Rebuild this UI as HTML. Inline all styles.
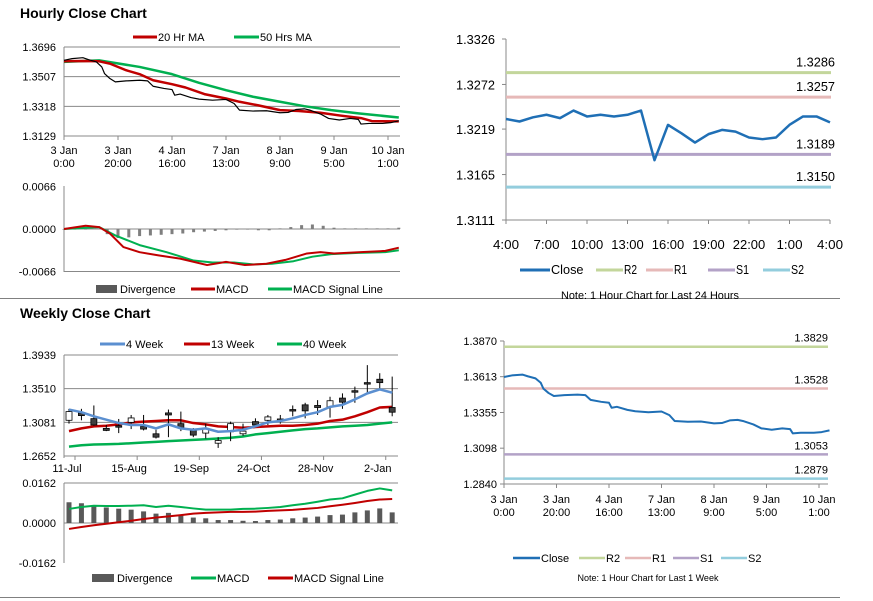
<!DOCTYPE html>
<html><head><meta charset="utf-8">
<style>
html,body{margin:0;padding:0;background:#fff;}
svg{display:block;font-family:"Liberation Sans",Arial,sans-serif;}
</style></head>
<body>
<svg id="chart" width="873" height="601" viewBox="0 0 873 601" xmlns="http://www.w3.org/2000/svg"></svg>
<script>
// ===== Hourly chart data (bar index, value) =====
const hCloseBars=[0,3,7,9,12,14,15,17,19,23,28,31,33,37,40,41,43,47,50,55,60,63,65,70,75,80,83,86,89,91,95,98,102,106,109,110,113,118,121,124];
const hClose=[1.3611,1.3622,1.3628,1.3616,1.3601,1.3569,1.3527,1.3495,1.3474,1.3480,1.3484,1.3480,1.3446,1.3432,1.3425,1.3389,1.3396,1.3374,1.3364,1.3357,1.3362,1.3336,1.3294,1.3288,1.3290,1.3277,1.3279,1.3298,1.3302,1.3294,1.3269,1.3241,1.3231,1.3241,1.3235,1.3205,1.3209,1.3209,1.3214,1.3226];
const hMA20Bars=[0,7,13,17,23,28,33,40,45,52,60,65,72,80,87,95,102,110,114,124];
const hMA20=[1.3605,1.3607,1.3605,1.3590,1.3548,1.3523,1.3484,1.3459,1.3438,1.3396,1.3368,1.3347,1.3324,1.3294,1.3288,1.3277,1.3260,1.3243,1.3224,1.3222];
const hMA50Bars=[0,13,19,28,40,50,60,70,80,89,99,109,124];
const hMA50=[1.3601,1.3611,1.3594,1.3569,1.3523,1.3468,1.3421,1.3379,1.3347,1.3319,1.3294,1.3273,1.3247];
const hTicks=[1.3696,1.3507,1.3318,1.3129];
const hXLabels=[["3 Jan","0:00"],["3 Jan","20:00"],["4 Jan","16:00"],["7 Jan","13:00"],["8 Jan","9:00"],["9 Jan","5:00"],["10 Jan","1:00"]];
const hMacdBars=[0,8,13,17,22,28,35,43,53,60,67,75,82,90,95,100,110,119,124];
const hMacd=[0,0.0005,0.0003,-0.0007,-0.0028,-0.0036,-0.0041,-0.0046,-0.0056,-0.0051,-0.0056,-0.0054,-0.0048,-0.0038,-0.0036,-0.0038,-0.0036,-0.0034,-0.0029];
const hSigBars=[0,13,19,28,38,48,55,63,70,77,85,92,99,109,119,124];
const hSig=[0,0.0003,-0.0010,-0.0025,-0.0036,-0.0049,-0.0052,-0.0052,-0.0055,-0.0054,-0.0050,-0.0043,-0.0039,-0.0037,-0.0036,-0.0033];
const hDiv=[0,0,0,0.0001,-0.0008,-0.0014,-0.0013,-0.0011,-0.0010,-0.0009,-0.0008,-0.0007,-0.0005,-0.0004,-0.0003,-0.0002,-0.0001,0,-0.0002,-0.0002,0.0001,0.0003,0.0006,0.0007,0.0005,0.0002,0.0001,0.0001,0.0001,0.0001,0.0001,0.0002];
const hMacdTicks=[0.0066,0.0000,-0.0066];

// ===== Weekly chart data =====
const wLabels=["11-Jul","15-Aug","19-Sep","24-Oct","28-Nov","2-Jan"];
const wOpen=[1.3107,1.3201,1.3128,1.3004,1.3038,1.3081,1.3030,1.2935,1.3201,1.3064,1.2978,1.2944,1.2815,1.2961,1.2935,1.3090,1.3107,1.3124,1.3244,1.3304,1.3296,1.3278,1.3390,1.3484,1.3587,1.3630,1.3270];
const wHigh=[1.3253,1.3253,1.3296,1.3047,1.3124,1.3175,1.3175,1.2987,1.3244,1.3218,1.3008,1.3064,1.2892,1.3090,1.3064,1.3132,1.3175,1.3175,1.3296,1.3330,1.3364,1.3407,1.3450,1.3536,1.3810,1.3707,1.3664];
const wLow=[1.3064,1.3107,1.3038,1.2969,1.2944,1.2995,1.2978,1.2875,1.2892,1.2969,1.2892,1.2875,1.2755,1.2841,1.2909,1.3021,1.3047,1.3064,1.3158,1.3132,1.3175,1.3141,1.3253,1.3330,1.3459,1.3493,1.3158];
const wClose=[1.3218,1.3167,1.3047,1.2978,1.3021,1.3137,1.2995,1.2892,1.3175,1.3012,1.2918,1.3004,1.2849,1.3064,1.2969,1.3047,1.3150,1.3098,1.3227,1.3227,1.3270,1.3356,1.3338,1.3467,1.3579,1.3587,1.3210];
const w4=[1.3244,1.3210,1.3158,1.3115,1.3072,1.3047,1.3047,1.3004,1.3055,1.3004,1.2987,1.3004,1.2961,1.2969,1.2987,1.3030,1.3081,1.3098,1.3132,1.3175,1.3210,1.3278,1.3304,1.3373,1.3450,1.3501,1.3459];
const w13=[1.2969,1.3004,1.3030,1.3038,1.3055,1.3081,1.3090,1.3098,1.3107,1.3107,1.3072,1.3055,1.3030,1.3021,1.3012,1.3021,1.3030,1.3038,1.3038,1.3047,1.3064,1.3098,1.3115,1.3158,1.3210,1.3270,1.3278];
const w40=[1.2772,1.2789,1.2798,1.2802,1.2806,1.2815,1.2824,1.2832,1.2841,1.2849,1.2858,1.2866,1.2875,1.2884,1.2901,1.2927,1.2944,1.2961,1.2978,1.2995,1.3004,1.3017,1.3030,1.3038,1.3047,1.3064,1.3081];
const wTicks=[1.3939,1.3510,1.3081,1.2652];
const wDiv=[0.0084,0.0080,0.0068,0.0063,0.0058,0.0054,0.0047,0.0038,0.0041,0.0034,0.0022,0.0019,0.0012,0.0012,0.0009,0.0008,0.0012,0.0014,0.0019,0.0022,0.0026,0.0032,0.0034,0.0043,0.0051,0.0059,0.0043];
const wMacd=[0.0057,0.0065,0.0070,0.0069,0.0069,0.0070,0.0072,0.0065,0.0070,0.0065,0.0059,0.0054,0.0054,0.0054,0.0057,0.0058,0.0061,0.0065,0.0072,0.0078,0.0086,0.0095,0.0100,0.0115,0.0130,0.0140,0.0132];
const wSig=[-0.0024,-0.0016,-0.0009,-0.0003,0.0003,0.0009,0.0016,0.0022,0.0027,0.0032,0.0038,0.0041,0.0043,0.0045,0.0045,0.0046,0.0049,0.0051,0.0053,0.0057,0.0061,0.0068,0.0074,0.0081,0.0089,0.0095,0.0097];
const wMacdTicks=[0.0162,0.0000,-0.0162];

// ===== 24h pivot chart =====
const dLabels=["4:00","7:00","10:00","13:00","16:00","19:00","22:00","1:00","4:00"];
const dClose=[1.3231,1.3228,1.3233,1.3236,1.3232,1.3241,1.3234,1.3236,1.3234,1.3236,1.3241,1.3182,1.3224,1.3214,1.3203,1.3213,1.3218,1.3216,1.3209,1.3207,1.3209,1.3224,1.3234,1.3234,1.3227];
const dTicks=[1.3326,1.3272,1.3219,1.3165,1.3111];
const dLevelNames=["R2","R1","S1","S2"];
const dLevels=[1.3286,1.3257,1.3189,1.3150];
// ===== 1 week pivot chart =====
const kTicks=[1.3870,1.3613,1.3355,1.3098,1.2840];
const kLevels=[1.3829,1.3528,1.3053,1.2879];
const levelColors=["#c3d69b","#e6b9b8","#b3a2c7","#93cddd"];

const NS='http://www.w3.org/2000/svg';
const svg=document.getElementById('chart');
function mk(tag,attrs,parent){const e=document.createElementNS(NS,tag);for(const k in attrs)e.setAttribute(k,attrs[k]);(parent||svg).appendChild(e);return e;}
function txt(x,y,s,size,anchor,extra){const t=mk('text',Object.assign({x:x,y:y,'font-size':size,'text-anchor':anchor||'start',fill:'#000'},extra||{}));t.textContent=s;return t;}
function ntxt(x,y,s,size,anchor){return txt(x,y,s,size,anchor,{'textLength':(s.length*size*0.5).toFixed(1),'lengthAdjust':'spacingAndGlyphs'});}
function line(x1,y1,x2,y2,c,w){return mk('line',{x1:x1,y1:y1,x2:x2,y2:y2,stroke:c,'stroke-width':w});}
function poly(xs,ys,c,w){return mk('polyline',{points:xs.map((x,i)=>x+','+ys[i]).join(' '),fill:'none',stroke:c,'stroke-width':w,'stroke-linejoin':'round'});}
let el;

el=line(0,298.5,840,298.5,'#808080',1);


el=line(0,597.5,840,597.5,'#808080',1);


el=txt(20,18,'Hourly Close Chart',14,'start',{'font-weight':'bold'});


el=txt(20,318,'Weekly Close Chart',14,'start',{'font-weight':'bold'});



function legendLine(x1,x2,y,c,w,label,name,fs,narrow){
  el=line(x1,y,x2,y,c,w);
  
  
  el=narrow?ntxt(x2+1,y+4,label,fs):txt(x2+1,y+4,label,fs||11);
  
  
}
function legendBox(x1,x2,y,c,label,name){
  el=mk('rect',{x:x1,y:y-4,width:x2-x1,height:8,fill:c});
  
  
  el=txt(x2+3,y+4,label,11);
  
  
}

// ===== Hourly price panel =====
const xH=b=>64+b*2.7;
const yH=p=>47+(1.3696-p)/0.0567*89;
hTicks.forEach((t,i)=>{
  el=line(64,yH(t),400,yH(t),'#888',1);
  
  
  el=txt(56,yH(t)+4,t.toFixed(4),11,'end');
  
  
});
el=line(64,47,64,138,'#888',1);


hXLabels.forEach((l,i)=>{
  const x=xH(i*20);
  el=line(x,136,x,140,'#888',1);
  
  
  el=txt(x,154,l[0],11,'middle');
  
  
  el=txt(x,167,l[1],11,'middle');
  
  
});
el=poly(hMA50Bars.map(xH),hMA50.map(yH),'#00b050',2.5);


el=poly(hMA20Bars.map(xH),hMA20.map(yH),'#c00000',2.5);


el=poly(hCloseBars.map(xH),hClose.map(yH),'#000',1.2);


legendLine(133,157,37,'#c00000',3,'20 Hr MA','legend-ma20');
legendLine(234,259,37,'#00b050',3,'50 Hrs MA','legend-ma50');

// ===== Hourly MACD panel =====
const yHM=v=>229-v/0.0066*42.5;
hMacdTicks.forEach(t=>{
  el=txt(56,yHM(t)+4,t.toFixed(4),11,'end');
  
  
});
el=line(64,186,64,272,'#888',1);


el=line(64,yHM(0),400,yHM(0),'#888',1);


el=line(64,271.5,400,271.5,'#888',1);


hDiv.forEach((v,i)=>{
  const y0=yHM(0),y1=yHM(v);
  el=mk('rect',{x:xH(i*4)-1.5,y:Math.min(y0,y1),width:3,height:Math.max(0.6,Math.abs(y1-y0)),fill:'#7f7f7f'});
  
  
});
el=poly(hSigBars.map(xH),hSig.map(yHM),'#00b050',2);


el=poly(hMacdBars.map(xH),hMacd.map(yHM),'#c00000',2);


legendBox(96,117,289,'#595959','Divergence','legend-hourly-divergence');
legendLine(191,215,289,'#c00000',3,'MACD','legend-hourly-macd');
legendLine(268,292,289,'#00b050',3,'MACD Signal Line','legend-hourly-signal');

// ===== Weekly price panel =====
const xW=i=>69+i*12.43;
const yW=p=>355+(1.3939-p)/0.1287*101;
wTicks.forEach(t=>{
  el=line(64,yW(t),398,yW(t),'#888',1);
  
  
  el=txt(56,yW(t)+4,t.toFixed(4),11,'end');
  
  
});
el=line(64,355,64,458,'#888',1);


wLabels.forEach((l,i)=>{
  el=txt(xW(i*5)-2,472,l,11,'middle');
  
  
  el=line(xW(i*5)+6,456,xW(i*5)+6,460,'#888',1);
  
  
});
el=poly(w40.map((v,i)=>xW(i)),w40.map(yW),'#00b050',2.5);


el=poly(w13.map((v,i)=>xW(i)),w13.map(yW),'#c00000',2.5);


wOpen.forEach((o,i)=>{
  const c=wClose[i],x=xW(i);
  el=line(x,yW(wHigh[i]),x,yW(wLow[i]),'#000',1);
  
  
  const top=yW(Math.max(o,c)),bot=yW(Math.min(o,c));
  el=mk('rect',{x:x-3,y:top,width:6,height:Math.max(1.5,bot-top),fill:c>=o?'#fff':'#404040',stroke:'#000','stroke-width':0.8});
  
  
});
el=poly(w4.map((v,i)=>xW(i)),w4.map(yW),'#5b8fd0',2.5);


legendLine(100,125,344,'#5b8fd0',3,'4 Week','legend-4-week');
legendLine(184,210,344,'#c00000',3,'13 Week','legend-13-week');
legendLine(277,302,344,'#00b050',3,'40 Week','legend-40-week');

// ===== Weekly MACD =====
const yWM=v=>523-v/0.0162*40;
wMacdTicks.forEach(t=>{
  el=txt(56,yWM(t)+4,t.toFixed(4),11,'end');
  
  
});
el=line(64,483,64,563,'#888',1);


el=line(64,483,398,483,'#888',1);


el=line(64,yWM(0),398,yWM(0),'#888',1);


wDiv.forEach((v,i)=>{
  el=mk('rect',{x:xW(i)-2.5,y:yWM(v),width:5,height:yWM(0)-yWM(v),fill:'#595959'});
  
  
});
el=poly(wMacd.map((v,i)=>xW(i)),wMacd.map(yWM),'#00b050',2);


el=poly(wSig.map((v,i)=>xW(i)),wSig.map(yWM),'#c00000',2);


legendBox(92,114,578,'#595959','Divergence','legend-weekly-divergence');
legendLine(191,216,578,'#00b050',3,'MACD','legend-weekly-macd');
legendLine(268,293,578,'#c00000',3,'MACD Signal Line','legend-weekly-signal');

// ===== 24h pivot chart =====
const xR=h=>506+h*13.5;
const yR=p=>39+(1.3326-p)/0.0215*181;
el=line(506,39,506,220,'#888',1);


el=line(506,220,830,220,'#888',1);


dTicks.forEach(t=>{
  el=line(502,yR(t),506,yR(t),'#888',1);
  
  
  el=ntxt(495,yR(t)+5,t.toFixed(4),13,'end');
  
  
});
dLabels.forEach((l,i)=>{
  const x=xR(i*3);
  el=line(x,220,x,224,'#888',1);
  
  
  el=ntxt(x,249,l,13,'middle');
  
  
});
dLevels.forEach((v,i)=>{
  el=line(506,yR(v),831,yR(v),levelColors[i],3);
  
  
  el=ntxt(835,yR(v)-6,v.toFixed(4),13,'end');
  
  
});
el=poly(dClose.map((v,i)=>xR(i)),dClose.map(yR),'#1f6fb5',2.5);


legendLine(520,550,270,'#1f6fb5',3,'Close','legend-pivot24-close',13,true);
dLevelNames.forEach((n,i)=>{
  const x1=[596,646,708,763][i];
  legendLine(x1,x1+27,270,levelColors[i],3,n,'legend-pivot24-'+n.toLowerCase(),13,true);
});
el=txt(650,299,'Note: 1 Hour Chart for Last 24 Hours',11,'middle',{'textLength':178,'lengthAdjust':'spacingAndGlyphs'});



// ===== 1 week pivot chart =====
const xB=b=>504+b*2.625;
const yB=p=>341+(1.3870-p)/0.103*143;
el=line(504,341,504,484,'#888',1);


el=line(504,484,828,484,'#888',1);


kTicks.forEach(t=>{
  el=line(500,yB(t),504,yB(t),'#888',1);
  
  
  el=txt(497,yB(t)+4,t.toFixed(4),11,'end');
  
  
});
hXLabels.forEach((l,i)=>{
  const x=xB(i*20);
  el=line(x,484,x,488,'#888',1);
  
  
  el=txt(x,503,l[0],11,'middle');
  
  
  el=txt(x,516,l[1],11,'middle');
  
  
});
kLevels.forEach((v,i)=>{
  el=line(504,yB(v),828,yB(v),levelColors[i],2.5);
  
  
  el=txt(828,yB(v)-5,v.toFixed(4),11,'end');
  
  
});
el=poly(hCloseBars.map(xB),hClose.map(yB),'#1f6fb5',2);


legendLine(513,540,558,'#1f6fb5',2.5,'Close','legend-pivotweek-close',11);
dLevelNames.forEach((n,i)=>{
  const x1=[579,625,673,721][i];
  legendLine(x1,x1+26,558,levelColors[i],2.5,n,'legend-pivotweek-'+n.toLowerCase(),11);
});
el=txt(648,581,'Note: 1 Hour Chart for  Last 1 Week',9,'middle');


</script>
</body></html>
